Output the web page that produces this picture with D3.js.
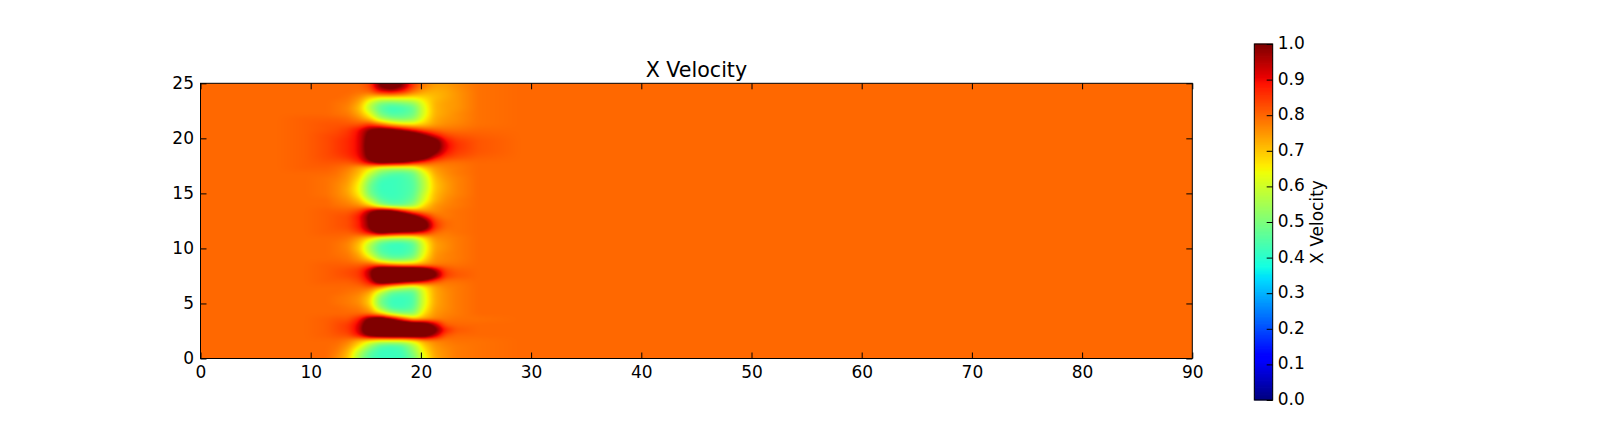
<!DOCTYPE html>
<html><head><meta charset="utf-8">
<script src="https://cdn.jsdelivr.net/npm/d3@7"></script>
<style>html,body{margin:0;padding:0;background:#fff;overflow:hidden}text{font-family:"DejaVu Sans";fill:#000}</style>
</head><body><svg id="c" width="1600" height="443" style="display:block"></svg>
<script>
const chartTitle = "X Velocity";
const colorbarLabel = "X Velocity";
const xTicks = [0,10,20,30,40,50,60,70,80,90];
const yTicks = [0,5,10,15,20,25];
const cbTicks = [0,0.1,0.2,0.3,0.4,0.5,0.6,0.7,0.8,0.9,1.0];
// Sample positions along the channel (x) and across it (y)
const xKnots = [0,7,9.5,11.4,12.4,13.4,14.4,15.35,16.3,17.3,18.3,19.3,20.3,21.25,22.2,23.2,25.2,29,90];
const yKnots = [25.18,24.7,24.2,23.7,23.2,22.73,22.24,21.75,21.26,20.77,20.28,19.78,19.3,18.8,18.3,17.82,17.33,16.84,16.35,15.86,15.37,14.87,14.38,13.89,13.4,12.91,12.42,11.93,11.44,10.95,10.46,9.97,9.47,8.98,8.49,8,7.51,7.02,6.53,6.04,5.55,5.06,4.56,4.07,3.58,3.09,2.6,2.11,1.62,1.13,0.64,0];
// X velocity x 100, values above 100 saturate the colour scale
const velocityPct = [
[80,80,80,80,80,80,80,84,103,112,102,86,78,75,75,76,79,80,80],
[80,80,80,80,80,80,80,83,100,108,98,84,77,74,74,76,79,80,80],
[80,80,80,80,80,80,79,80,88,90,86,78,73,72,73,75,79,80,80],
[80,80,80,80,80,79,76,70,66,66,66,66,68,71,73,75,79,80,80],
[80,80,80,80,79,78,73,60,50,48,50,53,64,72,74,75,79,80,80],
[80,80,80,80,79,77,71,57,46,42,43,47,62,72,74,75,79,80,80],
[80,80,80,80,79,78,73,63,49,44,45,48,62,72,74,76,79,80,80],
[80,80,81,81,81,80,77,71,58,52,50,53,65,73,75,76,79,80,80],
[80,80,81,82,82,82,82,85,80,72,68,67,70,74,76,77,79,80,80],
[80,80,81,82,83,85,90,100,105,102,95,88,82,80,79,79,80,80,80],
[80,80,81,83,84,86,91,104,125,125,122,112,100,90,84,82,81,80,80],
[80,80,81,83,85,87,91,106,130,130,130,125,115,106,90,85,82,80,80],
[80,80,81,83,85,87,91,107,130,130,130,130,122,108,92,86,82,80,80],
[80,80,81,83,85,87,91,106,130,130,130,125,116,104,90,85,82,80,80],
[80,80,81,83,84,86,90,104,125,125,125,118,108,92,85,83,81,80,80],
[80,80,81,82,82,82,86,96,105,103,100,92,84,80,79,79,80,80,80],
[80,80,81,81,80,78,73,68,60,58,58,60,70,75,77,78,80,80,80],
[80,80,80,80,79,76,71,60,50,46,45,48,62,73,76,78,80,80,80],
[80,80,80,79,78,75,68,53,44,42,43,46,58,71,75,77,80,80,80],
[80,80,80,79,77,74,65,49,42,42,43,45,57,70,74,77,80,80,80],
[80,80,80,79,77,73,64,48,42,42,43,45,57,70,74,77,80,80,80],
[80,80,80,79,77,74,66,50,43,42,43,46,60,71,75,77,80,80,80],
[80,80,80,80,78,76,71,58,46,43,44,48,62,72,76,78,80,80,80],
[80,80,80,80,79,78,76,70,56,48,48,54,68,75,77,78,80,80,80],
[80,80,80,81,81,81,84,96,108,105,90,78,75,76,78,79,80,80,80],
[80,80,80,81,82,83,89,102,125,125,118,105,90,80,78,79,80,80,80],
[80,80,80,81,82,83,88,101,125,125,125,120,105,85,80,79,80,80,80],
[80,80,80,81,82,83,88,100,125,125,125,122,108,86,80,79,80,80,80],
[80,80,80,81,81,81,84,92,105,100,96,94,88,80,78,79,80,80,80],
[80,80,80,80,80,79,75,69,60,57,56,58,68,76,77,78,80,80,80],
[80,80,80,80,79,77,71,58,46,42,42,46,63,74,76,78,80,80,80],
[80,80,80,80,79,77,70,55,44,42,42,45,62,74,76,78,80,80,80],
[80,80,80,80,79,78,73,60,47,43,43,47,64,75,77,78,80,80,80],
[80,80,80,80,80,79,76,70,56,50,50,54,68,76,77,78,80,80,80],
[80,80,80,81,81,81,81,83,82,78,75,75,76,78,79,79,80,80,80],
[80,80,80,81,82,83,85,95,122,125,125,122,115,98,84,81,80,80,80],
[80,80,80,81,82,83,85,95,122,125,125,125,122,104,85,82,80,80,80],
[80,80,80,81,81,81,83,90,112,112,105,100,92,83,79,79,80,80,80],
[80,80,80,80,80,80,80,82,78,68,62,58,66,74,77,78,80,80,80],
[80,80,80,80,80,79,78,74,60,48,46,46,63,73,76,78,80,80,80],
[80,80,80,80,79,78,76,70,51,43,42,44,62,73,76,78,80,80,80],
[80,80,80,80,79,78,76,69,49,42,42,44,62,73,76,78,80,80,80],
[80,80,80,80,80,79,78,73,55,44,43,46,64,74,76,78,80,80,80],
[80,80,80,80,80,80,80,78,70,58,52,52,68,75,77,78,80,80,80],
[80,80,80,81,82,82,88,104,112,100,85,72,74,77,78,79,79,80,80],
[80,80,80,81,83,85,92,112,125,125,118,114,110,95,81,80,80,80,80],
[80,80,80,81,83,85,93,116,125,125,125,122,118,104,88,82,80,80,80],
[80,80,80,81,82,83,90,104,110,112,112,112,108,95,82,80,80,80,80],
[80,80,80,80,80,78,72,66,62,62,62,66,74,77,78,79,79,80,80],
[80,80,80,80,79,75,66,54,45,43,45,55,69,75,77,78,79,80,80],
[80,80,80,80,78,72,58,47,42,42,43,52,66,74,76,78,79,80,80],
[80,80,80,80,76,70,53,44,42,42,42,48,63,73,76,78,79,80,80]
];

const x=d3.scaleLinear().domain([0,90]).range([200.5,1192.3]);
const y=d3.scaleLinear().domain([0,25]).range([358.5,83.3]);
// matplotlib "jet" as piecewise channel scales
const rS=d3.scaleLinear().domain([0,.35,.66,.89,1]).range([0,0,1,1,.5]).clamp(true);
const gS=d3.scaleLinear().domain([0,.125,.375,.64,.91,1]).range([0,0,1,1,0,0]).clamp(true);
const bS=d3.scaleLinear().domain([0,.11,.34,.65,1]).range([.5,1,1,0,0]).clamp(true);
const jet=v=>[rS(v)*255,gS(v)*255,bS(v)*255];
const svg=d3.select("#c");

// Field raster: fractional grid index from the data knots, bilinear lookup, light smoothing
const ix=d3.scaleLinear().domain(xKnots).range(d3.range(xKnots.length)).clamp(true);
const iy=d3.scaleLinear().domain(yKnots).range(d3.range(yKnots.length)).clamp(true);
const pw=992,ph=275;
const pxX=d3.scaleLinear().domain([0,pw]).range(x.domain());
const pxY=d3.scaleLinear().domain([0,ph]).range([25,0]);
let f=new Float32Array(pw*ph);
for(let j=0;j<ph;j++){
  const fy=iy(pxY(j+.5)),j0=Math.min(Math.floor(fy),yKnots.length-2),ty=fy-j0;
  for(let i=0;i<pw;i++){
    const fx=ix(pxX(i+.5)),i0=Math.min(Math.floor(fx),xKnots.length-2),tx=fx-i0;
    const a=velocityPct[j0][i0],b=velocityPct[j0][i0+1],c=velocityPct[j0+1][i0],d=velocityPct[j0+1][i0+1];
    f[j*pw+i]=((a*(1-tx)+b*tx)*(1-ty)+(c*(1-tx)+d*tx)*ty)/100;
  }
}
function box(src,dx,dy,r){
  const o=new Float32Array(pw*ph);
  for(let j=0;j<ph;j++)for(let i=0;i<pw;i++){
    let s=0,n=0;
    for(let k=-r;k<=r;k++){
      const a=i+k*dx,b=j+k*dy;
      if(a<0||b<0||a>=pw||b>=ph)continue;
      s+=src[b*pw+a];n++;
    }
    o[j*pw+i]=s/n;
  }
  return o;
}
f=box(f,1,0,3);f=box(f,0,1,2);f=box(f,1,0,2);f=box(f,0,1,1);
const cv=document.createElement("canvas");cv.width=pw;cv.height=ph;
const ctx=cv.getContext("2d"),im=ctx.createImageData(pw,ph);
for(let k=0;k<pw*ph;k++){
  const c=jet(Math.max(0,Math.min(1,f[k])));
  im.data[k*4]=c[0];im.data[k*4+1]=c[1];im.data[k*4+2]=c[2];im.data[k*4+3]=255;
}
ctx.putImageData(im,0,0);
svg.append("image").attr("x",200.5).attr("y",83.3).attr("width",991.8).attr("height",275.2)
  .attr("preserveAspectRatio","none").attr("href",cv.toDataURL());

// Axes
const tick=s=>s.call(g=>g.select(".domain").remove()).call(g=>g.selectAll("line").attr("stroke","#000").attr("stroke-width",1));
const fs=17;
svg.append("g").attr("transform","translate(0,358.5)")
  .call(d3.axisBottom(x).tickValues(xTicks).tickSize(-6).tickFormat(d3.format("d"))).call(tick)
  .call(g=>g.selectAll("text").attr("font-size",fs).attr("font-family","DejaVu Sans").attr("y",19.8).attr("dy",0));
svg.append("g").attr("transform","translate(0,83.3)")
  .call(d3.axisTop(x).tickValues(xTicks).tickSize(-6).tickFormat("")).call(tick);
svg.append("g").attr("transform","translate(200.5,0)")
  .call(d3.axisLeft(y).tickValues(yTicks).tickSize(-6).tickFormat(d3.format("d"))).call(tick)
  .call(g=>g.selectAll("text").attr("font-size",fs).attr("font-family","DejaVu Sans").attr("x",-6.5).attr("dy","0.3em"));
svg.append("g").attr("transform","translate(1192.3,0)")
  .call(d3.axisRight(y).tickValues(yTicks).tickSize(-6).tickFormat("")).call(tick);
svg.append("rect").attr("x",200.5).attr("y",83.3).attr("width",991.8).attr("height",275.2)
  .attr("fill","none").attr("stroke","#000").attr("stroke-width",1);
svg.append("text").attr("x",696.4).attr("y",77.3).attr("text-anchor","middle").attr("font-size",20.6).text(chartTitle);

// Colorbar
const cy=d3.scaleLinear().domain([0,1]).range([400,44]);
const levels=d3.range(256);
svg.append("g").selectAll("rect").data(levels).join("rect")
  .attr("x",1254.3).attr("width",18.4)
  .attr("y",d=>cy((d+1)/256)-0.4)
  .attr("height",(cy(0)-cy(1))/256+0.8)
  .attr("fill",d=>{const c=jet(d/255);return d3.rgb(c[0],c[1],c[2]).formatRgb();});
svg.append("rect").attr("x",1254.3).attr("y",44).attr("width",18.4).attr("height",356)
  .attr("fill","none").attr("stroke","#000").attr("stroke-width",1);
svg.append("g").attr("transform","translate(1272.7,0)")
  .call(d3.axisRight(cy).tickValues(cbTicks).tickSize(-6).tickFormat(d3.format(".1f"))).call(tick)
  .call(g=>g.selectAll("text").attr("font-size",fs).attr("font-family","DejaVu Sans").attr("x",5).attr("dy","0.27em"));
svg.append("text").attr("transform","translate(1323.3,222) rotate(-90)").attr("text-anchor","middle")
  .attr("font-size",fs).text(colorbarLabel);
</script></body></html>
